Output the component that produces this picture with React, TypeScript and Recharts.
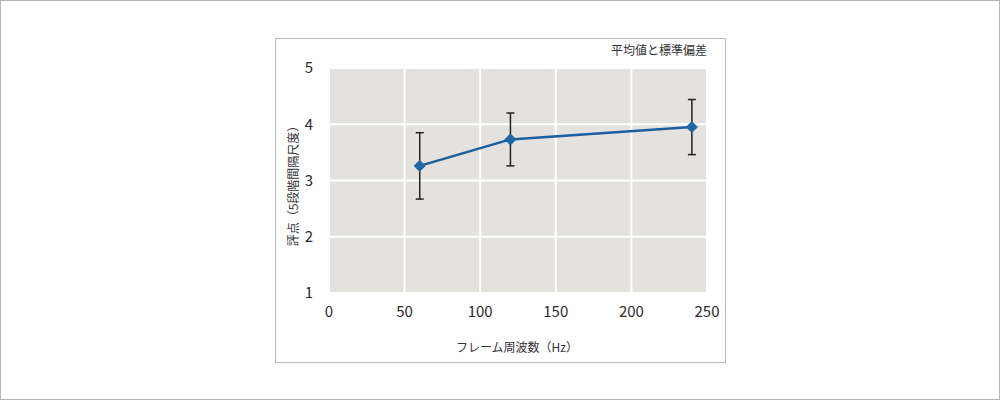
import { ComposedChart, Line, XAxis, YAxis, CartesianGrid, ErrorBar } from 'recharts';

const frameRates = [60, 120, 240];
const meanScores = [3.26, 3.73, 3.95];
const stdDevs = [0.59, 0.47, 0.49];

const xTicks = [0, 50, 100, 150, 200, 250];
const yTicks = [1, 2, 3, 4, 5];

const chartTitle = '平均値と標準偏差';
const xLabel = 'フレーム周波数（Hz）';
const yLabel = '評点（5段階間隔尺度）';

const data = frameRates.map((hz, i) => ({ hz, score: meanScores[i], sd: stdDevs[i] }));

const font = '"Noto Sans CJK JP", "Noto Sans", sans-serif';

const Diamond = (props: any) => {
  const { cx, cy } = props;
  if (cx == null || cy == null) return null;
  const r = 5.5;
  return (
    <polygon
      points={`${cx},${cy - r} ${cx + r},${cy} ${cx},${cy + r} ${cx - r},${cy}`}
      fill="#1f66a6"
      stroke="#1f66a6"
    />
  );
};

export default function App() {
  return (
    <div
      style={{
        position: 'fixed',
        left: 0,
        top: 0,
        width: 1000,
        height: 400,
        background: '#fff',
        border: '1px solid #b4b4b4',
        boxSizing: 'border-box',
        fontFamily: font,
      }}
    >
      <div
        style={{
          position: 'absolute',
          left: 274,
          top: 37,
          width: 451,
          height: 325,
          border: '1px solid #bcbcbc',
          boxSizing: 'border-box',
        }}
      />
      <div style={{ position: 'absolute', left: -1, top: -1 }}>
        <ComposedChart
          width={1000}
          height={400}
          data={data}
          margin={{ top: 68, right: 293, bottom: 77, left: 269 }}
        >
          <CartesianGrid fill="#e3e2df" stroke="#ffffff" strokeWidth={2} />
          <XAxis
            dataKey="hz"
            type="number"
            domain={[0, 250]}
            ticks={xTicks}
            axisLine={false}
            tickLine={false}
            tickSize={0}
            tickMargin={13}
            height={30}
            tick={{ fill: '#2a2a2a', fontSize: 15, fontFamily: font }}
          />
          <YAxis
            type="number"
            domain={[1, 5]}
            ticks={yTicks}
            axisLine={false}
            tickLine={false}
            tickSize={0}
            tickMargin={16}
            width={60}
            tick={{ fill: '#2a2a2a', fontSize: 15, fontFamily: font }}
          />
          <Line
            dataKey="score"
            stroke="#1a5f9f"
            strokeWidth={2.5}
            dot={<Diamond />}
            activeDot={false}
            isAnimationActive={false}
          >
            <ErrorBar dataKey="sd" direction="y" width={4} stroke="#222" strokeWidth={1.5} />
          </Line>
        </ComposedChart>
      </div>
      <svg
        width={1000}
        height={400}
        style={{ position: 'absolute', left: -1, top: -1, pointerEvents: 'none' }}
      >
        <g fontFamily={font} fontSize={12} fill="#333">
          <text x={707} y={55} textAnchor="end">
            {chartTitle}
          </text>
          <text x={517} y={352} textAnchor="middle">
            {xLabel}
          </text>
          <text x={298} y={183} textAnchor="middle" transform="rotate(-90 298 183)">
            {yLabel}
          </text>
        </g>
      </svg>
    </div>
  );
}
